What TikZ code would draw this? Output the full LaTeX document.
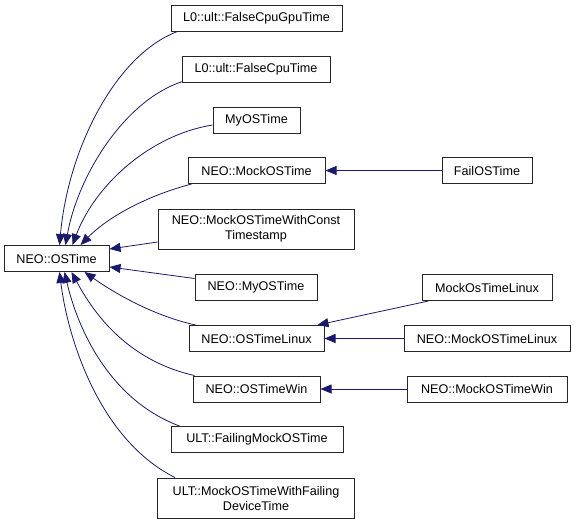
\documentclass[tikz,border=0pt]{standalone}
\usepackage{fontspec}
\setmainfont{Liberation Sans}
\usetikzlibrary{arrows.meta,calc}
\definecolor{edgeblue}{HTML}{191970}
\begin{document}
\begin{tikzpicture}[x=1pt,y=-1pt,
  box/.style={draw=black!85, line width=1pt, fill=white, inner sep=0pt, minimum height=26pt, align=center, font=\fontsize{12.6}{15}\selectfont},
  dbox/.style={box, minimum height=40pt},
  edge/.style={draw=edgeblue, line width=0.8pt, -{Triangle[length=11pt,width=9pt]}},
]
\useasboundingbox (0,0) rectangle (576,525);
\node[box, minimum width=171pt] (cpugpu) at (256.5,18) {L0::ult::FalseCpuGpuTime};
\node[box, minimum width=148pt] (cpu) at (256,69) {L0::ult::FalseCpuTime};
\node[box, minimum width=87pt] (myos) at (256.5,120) {MyOSTime};
\node[box, minimum width=137pt] (mockos) at (256.5,170.5) {NEO::MockOSTime};
\node[box, minimum width=90pt] (failos) at (487,170.5) {FailOSTime};
\node[dbox, minimum width=196pt] (const) at (256,229) {NEO::MockOSTimeWithConst\\Timestamp};
\node[box, minimum width=105pt] (ostime) at (56.5,258.5) {NEO::OSTime};
\node[box, minimum width=122pt] (neomyos) at (256,287.5) {NEO::MyOSTime};
\node[box, minimum width=130pt] (mockoslinux) at (487,287.5) {MockOsTimeLinux};
\node[box, minimum width=135pt] (linux) at (256.5,338.5) {NEO::OSTimeLinux};
\node[box, minimum width=166pt] (mocklinux) at (487,338.5) {NEO::MockOSTimeLinux};
\node[box, minimum width=127pt] (win) at (256.5,389) {NEO::OSTimeWin};
\node[box, minimum width=160pt] (mockwin) at (487,389) {NEO::MockOSTimeWin};
\node[box, minimum width=172pt] (failing) at (257,439.5) {ULT::FailingMockOSTime};
\node[dbox, minimum width=197pt] (faildev) at (256,498) {ULT::MockOSTimeWithFailing\\DeviceTime};

\draw[edge] ($(cpugpu.south west)+(7,0)$) .. controls (115,55) and (68,150) .. ($(ostime.north west)+(56,0)$);
\draw[edge] ($(cpu.south west)+(1,-1)$) .. controls (125,100) and (78,175) .. ($(ostime.north west)+(62,0)$);
\draw[edge] ($(myos.west)+(0,5)$) .. controls (150,135) and (95,185) .. ($(ostime.north west)+(69,0)$);
\draw[edge] ($(mockos.south west)+(4,0)$) .. controls (150,195) and (110,215) .. ($(ostime.north west)+(77,0)$);
\draw[edge] ($(const.west)+(0,13)$) -- ($(ostime.north east)+(0,4)$);
\draw[edge] ($(neomyos.west)+(0,-9)$) -- ($(ostime.south east)+(0,-5)$);
\draw[edge] ($(linux.north west)+(7,0)$) .. controls (150,315) and (110,290) .. ($(ostime.south west)+(81,0)$);
\draw[edge] ($(win.north west)+(2,0)$) .. controls (125,360) and (92,310) .. ($(ostime.south west)+(68,0)$);
\draw[edge] ($(failing.north west)+(9,0)$) .. controls (110,400) and (78,330) .. ($(ostime.south west)+(61,0)$);
\draw[edge] ($(faildev.north west)+(18,0)$) .. controls (100,440) and (68,340) .. ($(ostime.south west)+(56,0)$);

\draw[edge] (failos) -- (mockos);
\draw[edge] ($(mockoslinux.south west)+(7,0)$) -- ($(linux.north east)+(-7,0)$);
\draw[edge] (mocklinux) -- (linux);
\draw[edge] (mockwin) -- (win);
\end{tikzpicture}
\end{document}
